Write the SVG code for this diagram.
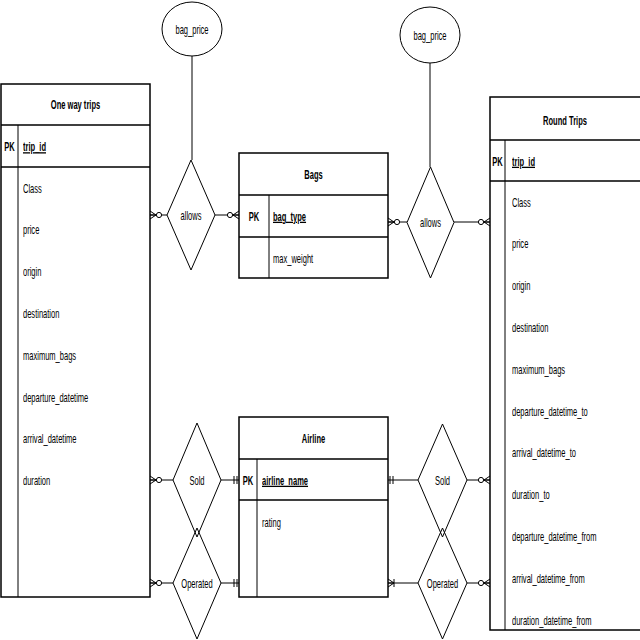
<svg xmlns="http://www.w3.org/2000/svg" width="640" height="640" viewBox="0 0 640 640">
<style>
.tbl{fill:#fff;stroke:#000;stroke-width:1.5}
.sep{stroke:#000;stroke-width:1.5;fill:none}
.div{stroke:#000;stroke-width:1;fill:none}
.shp{fill:#fff;stroke:#000;stroke-width:1}
.t{font-family:"Liberation Sans",Arial,sans-serif;font-size:13px;fill:#000;opacity:0.995}
.b{font-weight:bold}
.u{text-decoration:underline}
.m{text-anchor:middle}
.c{fill:none;stroke:#000;stroke-width:1}
</style>
<defs>
<marker id="zm" markerUnits="userSpaceOnUse" markerWidth="16" markerHeight="12" viewBox="-14 -6 16 12" refX="0" refY="0" orient="auto-start-reverse" overflow="visible">
<path d="M0,-4 L-6,0 L0,4 M0,0 L-6,0" fill="none" stroke="#000" stroke-width="1"/>
<circle cx="-9" cy="0" r="2.6" fill="#fff" stroke="#000" stroke-width="1"/>
</marker>
<marker id="mo" markerUnits="userSpaceOnUse" markerWidth="16" markerHeight="12" viewBox="-14 -6 16 12" refX="0" refY="0" orient="auto-start-reverse" overflow="visible">
<path d="M-2,-4 L-2,4 M-5,-4 L-5,4" fill="none" stroke="#000" stroke-width="1"/>
</marker>
<marker id="om" markerUnits="userSpaceOnUse" markerWidth="16" markerHeight="12" viewBox="-14 -6 16 12" refX="0" refY="0" orient="auto-start-reverse" overflow="visible">
<path d="M0,-4 L-6,0 L0,4 M0,0 L-6,0 M-6,-4 L-6,4" fill="none" stroke="#000" stroke-width="1"/>
</marker>
</defs>
<rect width="640" height="640" fill="#fff"/>

<g id="connectors">
<path class="c" d="M192,56 L192,160"/>
<path class="c" d="M430,63 L430,167"/>
<path class="c" d="M150,215 L167,215" marker-start="url(#zm)"/>
<path class="c" d="M215,215 L239,215" marker-end="url(#zm)"/>
<path class="c" d="M388,222 L407,222" marker-start="url(#zm)"/>
<path class="c" d="M454,222 L490,222" marker-end="url(#zm)"/>
<path class="c" d="M150,480 L173,480" marker-start="url(#zm)"/>
<path class="c" d="M221,480 L239,480" marker-end="url(#mo)"/>
<path class="c" d="M150,583 L173,583" marker-start="url(#zm)"/>
<path class="c" d="M221,583 L239,583" marker-end="url(#mo)"/>
<path class="c" d="M388,480 L418,480" marker-start="url(#mo)"/>
<path class="c" d="M467,480 L490,480" marker-end="url(#zm)"/>
<path class="c" d="M388,583 L418,583" marker-start="url(#om)"/>
<path class="c" d="M467,583 L490,583" marker-end="url(#zm)"/>
</g>

<g id="bag_price_left">
<ellipse class="shp" cx="192" cy="29" rx="30" ry="27"/>
<text class="t m" transform="translate(192,33.5) scale(0.58,1)">bag_price</text>
</g>
<g id="bag_price_right">
<ellipse class="shp" cx="430" cy="35" rx="30" ry="28"/>
<text class="t m" transform="translate(430,39.5) scale(0.58,1)">bag_price</text>
</g>

<g id="allows_left">
<polygon class="shp" points="191,160 215,215 191,270 167,215"/>
<text class="t m" transform="translate(191,219.5) scale(0.58,1)">allows</text>
</g>
<g id="allows_right">
<polygon class="shp" points="430.5,167 454,222.5 430.5,278 407,222.5"/>
<text class="t m" transform="translate(430.5,227) scale(0.58,1)">allows</text>
</g>

<g id="sold_left">
<polygon class="shp" points="197,423 221,480 197,537 173,480"/>
<text class="t m" transform="translate(197,484.5) scale(0.58,1)">Sold</text>
</g>
<g id="operated_left">
<polygon class="shp" points="197,528 221,583 197,639 173,583" fill-opacity="0"/>
<text class="t m" transform="translate(197,587.5) scale(0.58,1)">Operated</text>
</g>
<g id="sold_right">
<polygon class="shp" points="442.5,424 467,480 442.5,537 418,480"/>
<text class="t m" transform="translate(442.5,484.5) scale(0.58,1)">Sold</text>
</g>
<g id="operated_right">
<polygon class="shp" points="442.5,528 467,583 442.5,639 418,583" fill-opacity="0"/>
<text class="t m" transform="translate(442.5,587.5) scale(0.58,1)">Operated</text>
</g>

<g id="one_way_trips">
<rect class="tbl" x="1" y="84" width="149" height="513"/>
<path class="sep" d="M1,125 H150 M1,167 H150"/>
<path class="div" d="M18,125 V597"/>
<text class="t b m" transform="translate(75.5,109) scale(0.58,1)">One way trips</text>
<text class="t b m" transform="translate(9.5,151) scale(0.58,1)">PK</text>
<text class="t b u" transform="translate(23,151) scale(0.58,1)">trip_id</text>
<text class="t" transform="translate(23,192.5) scale(0.58,1)">Class</text>
<text class="t" transform="translate(23,234.3) scale(0.58,1)">price</text>
<text class="t" transform="translate(23,276.1) scale(0.58,1)">origin</text>
<text class="t" transform="translate(23,317.9) scale(0.58,1)">destination</text>
<text class="t" transform="translate(23,359.7) scale(0.58,1)">maximum_bags</text>
<text class="t" transform="translate(23,401.5) scale(0.58,1)">departure_datetime</text>
<text class="t" transform="translate(23,443.3) scale(0.58,1)">arrival_datetime</text>
<text class="t" transform="translate(23,485.1) scale(0.58,1)">duration</text>
</g>

<g id="bags">
<rect class="tbl" x="239" y="153" width="149" height="125"/>
<path class="sep" d="M239,195 H388 M239,237 H388"/>
<path class="div" d="M269,195 V278"/>
<text class="t b m" transform="translate(313.5,179) scale(0.58,1)">Bags</text>
<text class="t b m" transform="translate(254,220.5) scale(0.58,1)">PK</text>
<text class="t b u" transform="translate(273,220.5) scale(0.58,1)">bag_type</text>
<text class="t" transform="translate(273,262.5) scale(0.58,1)">max_weight</text>
</g>

<g id="airline">
<rect class="tbl" x="239" y="417" width="149" height="180"/>
<path class="sep" d="M239,459 H388 M239,500 H388"/>
<path class="div" d="M257,459 V597"/>
<text class="t b m" transform="translate(313.5,442.5) scale(0.58,1)">Airline</text>
<text class="t b m" transform="translate(248,484.5) scale(0.58,1)">PK</text>
<text class="t b u" transform="translate(262,484.5) scale(0.58,1)">airline_name</text>
<text class="t" transform="translate(262,526.5) scale(0.58,1)">rating</text>
</g>

<g id="round_trips">
<rect class="tbl" x="490" y="97" width="152" height="533"/>
<path class="sep" d="M490,140 H642 M490,181 H642"/>
<path class="div" d="M505,140 V630"/>
<text class="t b m" transform="translate(565,124.5) scale(0.58,1)">Round Trips</text>
<text class="t b m" transform="translate(497.5,165.5) scale(0.58,1)">PK</text>
<text class="t b u" transform="translate(512,165.5) scale(0.58,1)">trip_id</text>
<text class="t" transform="translate(512,206.5) scale(0.58,1)">Class</text>
<text class="t" transform="translate(512,248.3) scale(0.58,1)">price</text>
<text class="t" transform="translate(512,290.1) scale(0.58,1)">origin</text>
<text class="t" transform="translate(512,331.9) scale(0.58,1)">destination</text>
<text class="t" transform="translate(512,373.7) scale(0.58,1)">maximum_bags</text>
<text class="t" transform="translate(512,415.5) scale(0.58,1)">departure_datetime_to</text>
<text class="t" transform="translate(512,457.3) scale(0.58,1)">arrival_datetime_to</text>
<text class="t" transform="translate(512,499.1) scale(0.58,1)">duration_to</text>
<text class="t" transform="translate(512,540.9) scale(0.58,1)">departure_datetime_from</text>
<text class="t" transform="translate(512,582.7) scale(0.58,1)">arrival_datetime_from</text>
<text class="t" transform="translate(512,624.5) scale(0.58,1)">duration_datetime_from</text>
</g>
</svg>
